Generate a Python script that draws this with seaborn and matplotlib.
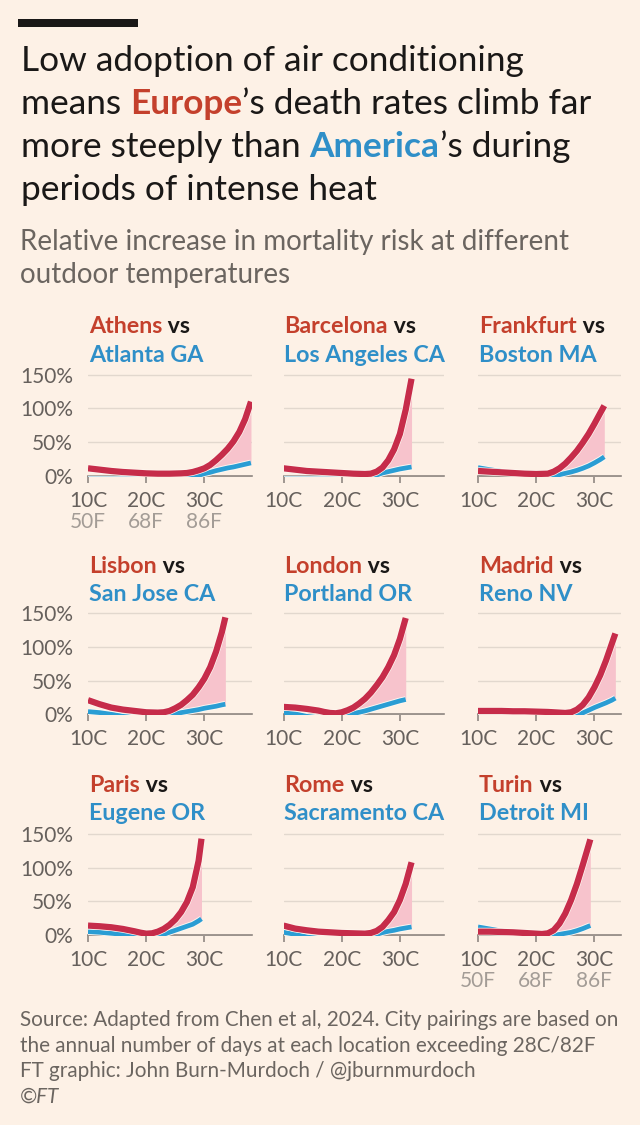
import numpy as np
import pandas as pd
import matplotlib
matplotlib.use("Agg")
import matplotlib.pyplot as plt
import matplotlib.patheffects as pe
from matplotlib.patches import Rectangle
import seaborn as sns

# ---------------- data ----------------
EUROPE_CITIES = ["Athens", "Barcelona", "Frankfurt", "Lisbon", "London",
                 "Madrid", "Paris", "Rome", "Turin"]
US_CITIES = ["Atlanta GA", "Los Angeles CA", "Boston MA", "San Jose CA",
             "Portland OR", "Reno NV", "Eugene OR", "Sacramento CA", "Detroit MI"]

ATHENS_T = [10, 12, 14, 16, 18, 20, 22, 24, 26, 27, 28, 29, 30, 31, 32, 33, 34, 35, 36, 37, 38]
ATHENS = [11, 9, 7, 5.5, 4.5, 3.5, 3, 3, 3.5, 4, 5.5, 8, 11, 16, 23, 31, 40, 51, 65, 84, 110]
ATLANTA = [-5, -5, -5, -5, -5, -5, -5, -5, -5, -3, -1.5, 0.5, 3, 5, 7.5, 9.5, 11.5, 13, 15, 17, 19]

BARCELONA_T = [10, 12, 14, 16, 18, 20, 22, 24, 25, 26, 27, 28, 29, 30, 31, 32]
BARCELONA = [11, 9, 7, 6, 5, 4, 3, 2.5, 3, 6, 12, 23, 39, 62, 98, 144]
LOS_ANGELES = [-5, -5, -5, -5, -5, -5, -5, -5, -2, 1, 4, 6, 8, 10, 11.5, 13]

FRANKFURT_T = [10, 12, 14, 16, 18, 20, 22, 23, 24, 25, 26, 27, 28, 29, 30, 31, 31.7]
FRANKFURT = [7, 6, 5, 4, 3, 2.5, 3, 6, 11, 18, 27, 37, 49, 62, 77, 93, 104]
BOSTON = [12, 9, 6.5, 4.5, 2, -2, -3, 0, 1.5, 3.5, 5.5, 8, 11, 14.5, 19, 24, 28]

LISBON_T = [10, 12, 14, 16, 18, 20, 22, 23, 24, 25, 26, 27, 28, 29, 30, 31, 32, 33, 33.6]
LISBON = [21, 15, 10, 7, 5, 3, 2.5, 3, 5, 9, 14, 21, 29, 40, 53, 70, 93, 122, 144]
SAN_JOSE = [4, 2.5, 0, -3, -5, -5, -5, -3, -1, 1, 2.5, 4, 5.5, 7, 9, 10.5, 12, 14, 15]

LONDON_T = [10, 12, 14, 16, 17, 18, 19, 20, 21, 22, 23, 24, 25, 26, 27, 28, 29, 30, 31]
LONDON = [11, 10, 8, 5.5, 3.5, 2, 1.5, 3, 6, 10, 16, 23, 32, 43, 55, 70, 88, 112, 143]
PORTLAND = [2, 0.5, -3, -5, -5, -5, -5, -5, -1, 1, 3, 5, 7.5, 10, 12.5, 15, 17.5, 20, 22]

MADRID_T = [10, 12, 14, 16, 18, 20, 22, 24, 25, 26, 27, 28, 29, 30, 31, 32, 33, 33.6]
MADRID = [5, 5, 5, 4.5, 4.5, 4, 3.5, 2.5, 2, 3, 7, 14, 25, 40, 58, 80, 105, 120]
RENO = [-5, -5, -5, -5, -5, -5, -5, -5, -5, -3, -1, 2, 6, 10, 13.5, 17, 21, 24]

PARIS_T = [10, 12, 14, 16, 18, 19, 20, 21, 22, 23, 24, 25, 26, 27, 28, 29, 29.5]
PARIS = [14, 13, 11.5, 9, 5.5, 3.5, 2, 2.5, 5, 9, 15, 23, 34, 49, 71, 110, 143]
EUGENE = [5, 4, 2.5, 1, -2, -5, -5, -5, -2, 1, 4, 7, 10, 13, 16, 21, 24]

ROME_T = [10, 12, 14, 16, 18, 20, 22, 24, 25, 26, 27, 28, 29, 30, 31, 32]
ROME = [14, 9.5, 7, 5, 4, 3, 2.5, 2, 3, 6, 12, 22, 34, 52, 76, 108]
SACRAMENTO = [4, 1, -3, -5, -5, -5, -5, -5, -2, 1, 3.5, 5.5, 7, 9, 10.5, 12]

TURIN_T = [10, 12, 14, 16, 18, 20, 21, 22, 23, 24, 25, 26, 27, 28, 29, 29.3]
TURIN = [5, 5, 4.5, 4, 3, 2, 1.5, 2.5, 7, 17, 32, 52, 76, 104, 133, 142]
DETROIT = [12, 9, 6, 3, 0, -3, -5, -3, -1, 1, 2.5, 4, 6.5, 9.5, 13, 14]

# temperature from which the gap between the two curves is shaded
GAP_FROM = [29, 26, 23, 24, 21, 27, 23, 26, 23]

Y_TICKS = [0, 50, 100, 150]
Y_TICK_LABELS = ["0%", "50%", "100%", "150%"]
X_TICKS = [10, 20, 30]
X_TICK_LABELS = ["10C", "20C", "30C"]
F_TICK_LABELS = ["50F", "68F", "86F"]

PANELS = list(zip(
    EUROPE_CITIES, US_CITIES,
    [ATHENS_T, BARCELONA_T, FRANKFURT_T, LISBON_T, LONDON_T, MADRID_T, PARIS_T, ROME_T, TURIN_T],
    [ATHENS, BARCELONA, FRANKFURT, LISBON, LONDON, MADRID, PARIS, ROME, TURIN],
    [ATLANTA, LOS_ANGELES, BOSTON, SAN_JOSE, PORTLAND, RENO, EUGENE, SACRAMENTO, DETROIT],
    GAP_FROM))

# ---------------- style ----------------
BG = "#fdf1e6"
INK = "#1a1817"
RED_LINE = "#c62c4a"
RED_TEXT = "#c4402c"
BLUE_LINE = "#2a9dd4"
BLUE_TEXT = "#2f8fc8"
PINK = "#f7c3cc"
GRID = "#e2d8ce"
SPINE = "#8f8782"
TICK_C = "#66605c"
F_C = "#a39c96"
SUB_C = "#6b6560"
HALO = "#fff8f1"

W, H = 640, 1125
COL_LEFT = [88, 283.5, 478]
COL_XMAX = [38.1, 37.5, 34.6]
ROW_ZERO = [475.7, 714.3, 935.0]
TITLE1_Y = [333, 573, 792]
TITLE2_Y = [362, 601, 820]
PX_PER_C = 5.82
PX_PER_PCT = 101 / 150
YLIM = (-1.5, 153)
PT = 0.72  # points per pixel at dpi 100

sns.set_theme(style="white", rc={"axes.facecolor": "none",
                                 "figure.facecolor": BG,
                                 "savefig.facecolor": BG})
plt.rcParams["font.family"] = ["Lato", "DejaVu Sans"]

fig = plt.figure(figsize=(W / 100, H / 100), dpi=100)
fig.patch.set_facecolor(BG)
R = fig.canvas.get_renderer()


def text_box(s, size, weight="normal", style="normal"):
    t = fig.text(0.5, 0.5, s, fontsize=size, fontweight=weight,
                 fontstyle=style, va="baseline")
    bb = t.get_window_extent(R)
    base_y = 0.5 * H
    t.remove()
    return bb.width, bb.y1 - base_y


def advance(s, size, weight="normal"):
    return text_box(s + "x", size, weight)[0] - text_box("x", size, weight)[0]


def fit(s, target, weight="normal", style="normal"):
    return 20 * target / text_box(s, 20, weight, style)[0]


def rich(x, y, parts, size):
    for s, color, weight in parts:
        fig.text(x / W, 1 - y / H, s, fontsize=size, fontweight=weight,
                 color=color, ha="left", va="baseline")
        x += advance(s, size, weight)


# ---------------- header ----------------
fig.add_artist(Rectangle((18 / W, 1 - 27 / H), 120 / W, 8 / H,
                         transform=fig.transFigure, color=INK, lw=0))

title_fs = fit("Low adoption of air conditioning", 503)
rich(21, 71, [("Low adoption of air conditioning", INK, "normal")], title_fs)
rich(21, 114, [("means ", INK, "normal"), ("Europe", RED_TEXT, "bold"),
               ("\u2019s death rates climb far", INK, "normal")], title_fs)
rich(21, 157, [("more steeply than ", INK, "normal"), ("America", BLUE_TEXT, "bold"),
               ("\u2019s during", INK, "normal")], title_fs)
rich(21, 200, [("periods of intense heat", INK, "normal")], title_fs)

sub_fs = fit("Relative increase in mortality risk at different", 549)
rich(20, 250, [("Relative increase in mortality risk at different", SUB_C, "normal")], sub_fs)
rich(20, 283, [("outdoor temperatures", SUB_C, "normal")], sub_fs)

# ---------------- panels ----------------
panel_fs = fit("Los Angeles CA", 161, "bold")
tick_fs = fit("100%", 53)
tick_len_px = 7
asc = text_box("10C", tick_fs)[1]
x_pad_px = 31 - asc - tick_len_px

for i, (eu_name, us_name, T, EU, US, gap0) in enumerate(PANELS):
    r, c = divmod(i, 3)
    left = COL_LEFT[c]
    width = (COL_XMAX[c] - 10) * PX_PER_C
    y0 = ROW_ZERO[r]
    bottom = y0 - YLIM[0] * PX_PER_PCT
    height = (YLIM[1] - YLIM[0]) * PX_PER_PCT
    ax = fig.add_axes([left / W, 1 - bottom / H, width / W, height / H])
    ax.set_facecolor("none")

    n = len(T)
    df = pd.DataFrame({"temp": T + T, "risk": EU + US,
                       "region": ["Europe"] * n + ["US"] * n})
    t = np.asarray(T, float)
    eu_v = np.asarray(EU, float)
    us_v = np.asarray(US, float)
    ax.fill_between(t, np.clip(us_v, 0, None), eu_v, where=t >= gap0,
                    color=PINK, lw=0, zorder=1)
    sns.lineplot(data=df[df.region == "US"], x="temp", y="risk", ax=ax,
                 color=BLUE_LINE, lw=3.4, estimator=None, sort=False,
                 legend=False, solid_capstyle="butt", zorder=3,
                 path_effects=[pe.withStroke(linewidth=4.7, foreground=HALO)])
    sns.lineplot(data=df[df.region == "Europe"], x="temp", y="risk", ax=ax,
                 color=RED_LINE, lw=4.5, estimator=None, sort=False,
                 legend=False, solid_capstyle="butt", zorder=4,
                 path_effects=[pe.withStroke(linewidth=5.5, foreground=HALO)])

    ax.set_xlim(10, COL_XMAX[c])
    ax.set_ylim(*YLIM)
    ax.set_xlabel("")
    ax.set_ylabel("")
    for s in ("left", "top", "right"):
        ax.spines[s].set_visible(False)
    ax.spines["bottom"].set_position(("data", 0))
    ax.spines["bottom"].set_color(SPINE)
    ax.spines["bottom"].set_linewidth(1.2)
    ax.spines["bottom"].set_zorder(2.5)
    ax.grid(axis="y", color=GRID, lw=1.0)
    ax.grid(axis="x", visible=False)
    ax.set_axisbelow(True)

    ax.set_xticks(X_TICKS, X_TICK_LABELS)
    ax.tick_params(axis="x", direction="out", length=tick_len_px * PT, width=1.2,
                   color=SPINE, pad=x_pad_px * PT, labelsize=tick_fs,
                   labelcolor=TICK_C, bottom=True)
    ax.set_yticks(Y_TICKS, Y_TICK_LABELS if c == 0 else [""] * len(Y_TICKS))
    ax.tick_params(axis="y", length=0, pad=15 * PT, labelsize=tick_fs,
                   labelcolor=TICK_C)

    if (r, c) in [(0, 0), (2, 2)]:
        for tk, lab in zip(X_TICKS, F_TICK_LABELS):
            ax.annotate(lab, xy=(tk, 0), xycoords="data", xytext=(0, -52 * PT),
                        textcoords="offset points", ha="center", va="baseline",
                        fontsize=tick_fs, color=F_C, annotation_clip=False)

    rich(left + 1, TITLE1_Y[r], [(eu_name, RED_TEXT, "bold"), (" vs", INK, "bold")], panel_fs)
    rich(left + 1, TITLE2_Y[r], [(us_name, BLUE_TEXT, "bold")], panel_fs)

# ---------------- footer ----------------
foot_fs = fit("Source: Adapted from Chen et al, 2024. City pairings are based on", 598)
FOOT = ["Source: Adapted from Chen et al, 2024. City pairings are based on",
        "the annual number of days at each location exceeding 28C/82F",
        "FT graphic: John Burn-Murdoch / @jburnmurdoch"]
for k, line in enumerate(FOOT):
    rich(20, 1026 + 25.7 * k, [(line, SUB_C, "normal")], foot_fs)
fig.text(20 / W, 1 - 1103 / H, "\u00a9FT", fontsize=foot_fs, fontstyle="italic",
         color=SUB_C, ha="left", va="baseline")

fig.savefig("out.png", dpi=100, facecolor=BG)
